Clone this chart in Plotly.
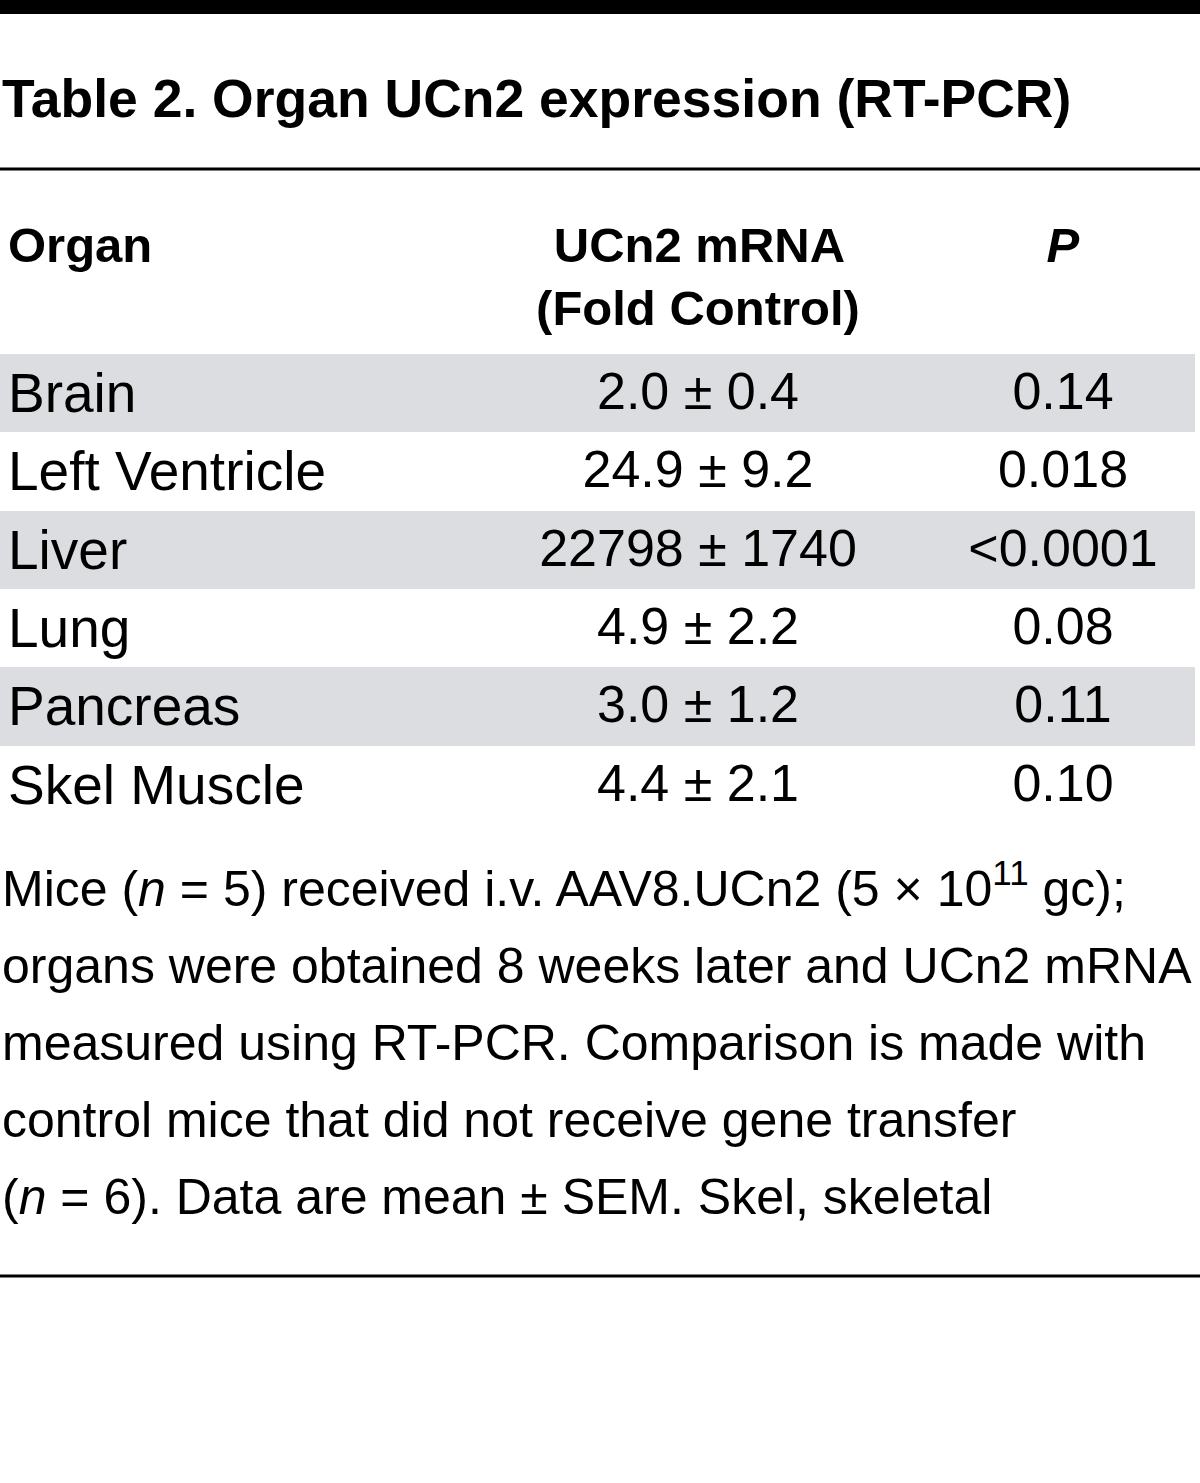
import plotly.graph_objects as go

W, H = 1200, 1483
FONT = "Liberation Sans"

title = "Table 2. Organ UCn2 expression (RT-PCR)"
col_headers = ["Organ", "\u00a0\u200aUCn2 mRNA<br>(Fold Control)", "<i>P</i>"]
organs = ["Brain", "Left Ventricle", "Liver", "Lung", "Pancreas", "Skel Muscle"]
mrna = ["2.0 ± 0.4", "24.9 ± 9.2", "22798 ± 1740", "4.9 ± 2.2", "3.0 ± 1.2", "4.4 ± 2.1"]
pvals = ["0.14", "0.018", "<0.0001", "0.08", "0.11", "0.10"]
footnote_lines = [
    "Mice (<i>n</i> = 5) received i.v. AAV8.UCn2 (5 × 10<sup>11</sup> gc);",
    "organs were obtained 8 weeks later and UCn2 mRNA",
    "measured using RT-PCR. Comparison is made with",
    "control mice that did not receive gene transfer",
    "(<i>n</i> = 6). Data are mean ± SEM. Skel, skeletal",
]

GRAY = "#dcdde0"
row_fill = [GRAY if i % 2 == 0 else "white" for i in range(len(organs))]


def py(px):
    return 1 - px / H


def cell(s):
    # escape '<', keep spaces unbreakable so cells stay on one line
    s = s.replace("<", "&lt;").replace(" ", "\u00a0")
    return f"<span>{s}</span>"


fig = go.Figure()
fig.add_trace(go.Table(
    domain=dict(x=[0, 1195 / W], y=[py(824), py(209.7)]),
    columnwidth=[465, 466, 264],
    header=dict(
        values=[f"<b>{h}</b>" for h in col_headers],
        align=["left", "center", "center"],
        height=144.3,
        fill_color="white",
        line=dict(color="white", width=0),
        font=dict(family=FONT, size=49, color="black"),
    ),
    cells=dict(
        values=[[cell(v) for v in organs], [cell(v) for v in mrna], [cell(v) for v in pvals]],
        align=["left", "center", "center"],
        height=78.33,
        fill_color=[row_fill] * 3,
        line=dict(color=[row_fill] * 3, width=0),
        font=dict(family=FONT, size=[55, 52, 52], color="black"),
    ),
))

# title
fig.add_annotation(text=f"<b>{title}</b>", x=0, y=py(130), xref="paper", yref="paper",
                   xanchor="left", yanchor="bottom", showarrow=False,
                   font=dict(family=FONT, size=53.5, color="black"))

# footnote
for i, line in enumerate(footnote_lines):
    fig.add_annotation(text=line, x=0, y=py(919 + 77 * i), xref="paper", yref="paper",
                       xanchor="left", yanchor="bottom", showarrow=False, align="left",
                       font=dict(family=FONT, size=50, color="black"))

# rules
fig.add_shape(type="rect", xref="paper", yref="paper", x0=0, x1=1, y0=py(14), y1=1,
              fillcolor="black", line=dict(width=0))
fig.add_shape(type="line", xref="paper", yref="paper", x0=0, x1=1, y0=py(169), y1=py(169),
              line=dict(color="black", width=3))
fig.add_shape(type="line", xref="paper", yref="paper", x0=0, x1=1, y0=py(1276), y1=py(1276),
              line=dict(color="black", width=3))

fig.update_layout(width=W, height=H, margin=dict(l=0, r=0, t=0, b=0),
                  paper_bgcolor="white", plot_bgcolor="white", showlegend=False)
fig.write_html("out.html", config={"displayModeBar": False},
               post_script="document.body.style.margin='0';")
